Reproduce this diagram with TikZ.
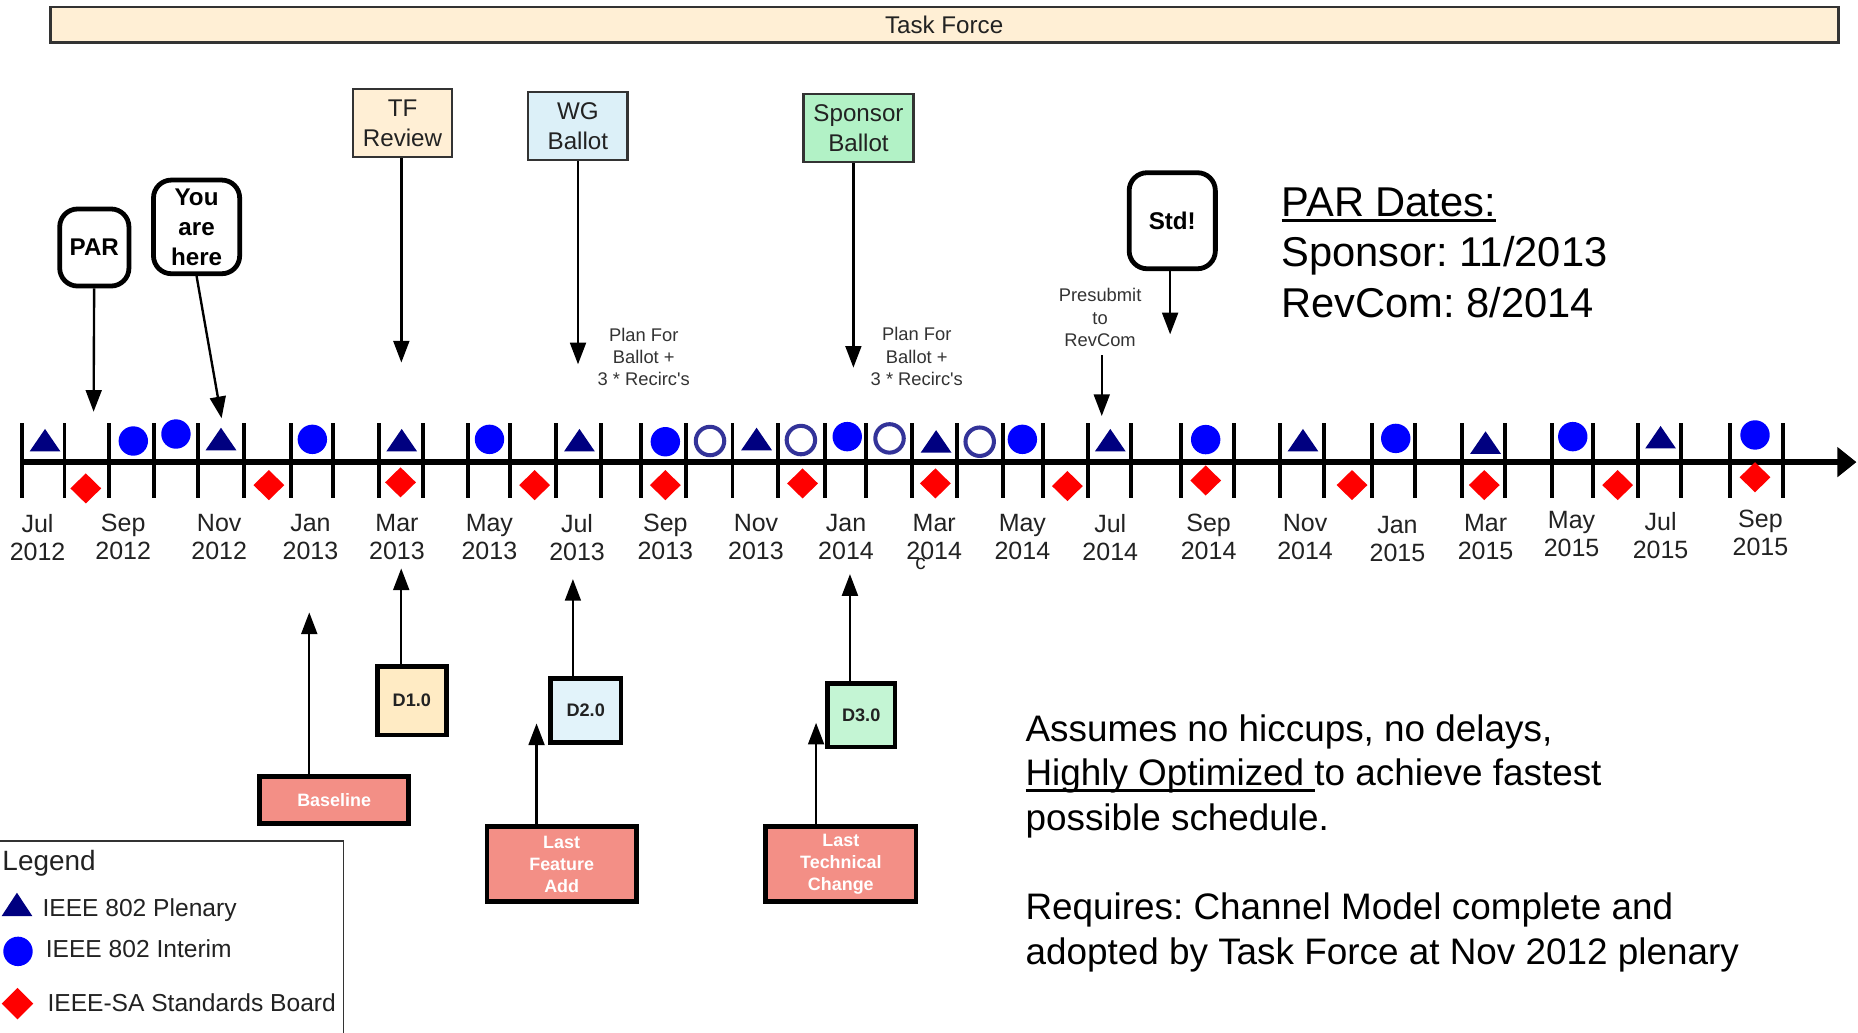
\documentclass[tikz,border=0pt]{standalone}
\usepackage{fontspec}
\setmainfont{Liberation Sans}
\usetikzlibrary{arrows.meta}
\frenchspacing

\definecolor{tfpeach}{RGB}{255,239,213}
\definecolor{wgblue}{RGB}{220,240,248}
\definecolor{sbgreen}{RGB}{178,242,198}
\definecolor{dpeach}{RGB}{255,235,196}
\definecolor{dblue}{RGB}{226,243,250}
\definecolor{dgreen}{RGB}{196,245,212}
\definecolor{salmon}{RGB}{243,143,134}
\definecolor{edgegray}{RGB}{51,51,51}
\definecolor{inkgray}{RGB}{34,34,34}
\definecolor{plenblue}{RGB}{0,0,128}
\definecolor{intblue}{RGB}{0,0,255}
\definecolor{ringblue}{RGB}{51,51,153}
\definecolor{sbred}{RGB}{255,0,0}

% underline that runs through the descenders
\newcommand{\lowrule}[2]{\leavevmode\setbox0\hbox{#2}\rlap{\rule[-#1]{\wd0}{0.62pt}}\box0}

\tikzset{
    tfbar/.style={draw=edgegray, line width=0.66pt, fill=tfpeach, inner sep=0pt, text=inkgray, font=\fontsize{5.8}{7}\selectfont},
    phasebox/.style={draw=edgegray, line width=0.57pt, align=center, inner sep=0pt, text=inkgray, font=\fontsize{5.8}{7.2}\selectfont},
    bubble/.style={draw=black, line width=1.15pt, rounded corners=4.3pt, fill=white, align=center, inner sep=0pt, font=\bfseries\fontsize{5.8}{7.2}\selectfont},
    draftbox/.style={draw=black, line width=1.15pt, inner sep=0pt, text=inkgray, font=\bfseries\fontsize{4.35}{5.2}\selectfont},
    milebox/.style={draw=black, line width=1.15pt, fill=salmon, text=white, align=center, inner sep=0pt, font=\bfseries\fontsize{4.3}{5.2}\selectfont},
    pointer/.style={-{Triangle[length=5.2pt,width=3.8pt]}, line width=0.57pt},
    smalltext/.style={inner sep=0pt, align=center, text=edgegray, font=\fontsize{4.4}{5.35}\selectfont},
    monthlab/.style={inner sep=0pt, align=center, text=inkgray, font=\fontsize{6}{6.7}\selectfont},
    legendtext/.style={inner sep=0pt, text=inkgray, font=\fontsize{5.9}{7}\selectfont},
}

\begin{document}
\begin{tikzpicture}[x=0.01cm, y=-0.01cm]
        \clip (0,0) rectangle (1568,871);
        \fill[white] (0,0) rectangle (1568,871);

        % Task Force bar
        \node[tfbar, minimum width=15.08cm, minimum height=0.30cm] (tf) at (796.8,21) {Task Force};

        % Phases and callouts above the time line
        \node[phasebox, fill=tfpeach, minimum width=0.832cm, minimum height=0.576cm] (tfr) at (339.7,103.8) {TF\\Review};
        \node[phasebox, fill=wgblue, minimum width=0.838cm, minimum height=0.571cm] (wg) at (487.7,106.4) {WG\\Ballot};
        \node[phasebox, fill=sbgreen, minimum width=0.925cm, minimum height=0.576cm] (spb) at (724.5,108) {Sponsor\\Ballot};
        \node[bubble, minimum width=0.584cm, minimum height=0.65cm] (par) at (79.6,208.9) {PAR};
        \node[bubble, minimum width=0.727cm, minimum height=0.79cm] (here) at (165.9,191.5) {You\\are\\here};
        \node[bubble, minimum width=0.727cm, minimum height=0.81cm] (std) at (989.3,186.3) {Std!};

        \node[smalltext, anchor=north] (plan1) at (543.3,276.2) {Plan For\\Ballot +\\3 * Recirc\textquotesingle s};
        \node[smalltext, anchor=north] (plan2) at (773.7,275.7) {Plan For\\Ballot +\\3 * Recirc\textquotesingle s};
        \node[smalltext, anchor=north] (pre) at (928.4,242.8) {Presubmit\\to\\RevCom};

        \coordinate (parTip) at (79,347.5);
        \coordinate (hereTip) at (187,353);
        \coordinate (tfrTip) at (338.7,306);
        \coordinate (wgTip) at (487.8,307.5);
        \coordinate (spbTip) at (720.2,310.3);
        \coordinate (stdTip) at (987.5,282.2);
        \coordinate (preTip) at (929.8,351.1);

        \draw[pointer] (par) -- (parTip);
        \draw[pointer] (here.south) -- (hereTip);
        \draw[pointer] (tfrTip |- tfr.south) -- (tfrTip);
        \draw[pointer] (wgTip |- wg.south) -- (wgTip);
        \draw[pointer] (spbTip |- spb.south) -- (spbTip);
        \draw[pointer] (stdTip |- std.south) -- (stdTip);
        \draw[pointer, shorten <=1.88pt] (preTip |- pre.south) -- (preTip);

        % Time line
        \coordinate (tStart) at (17,390);
        \coordinate (tEnd) at (1566.7,390);
        \foreach \x in {18.4,54.4,91.8,130.1,166.9,206.2,245.3,281.3,319.7,357.1,394.8,430.5,468.9,507.2,
                        540.8,579.1,618.2,656.6,696,731,770,807.7,846.1,880.1,917.9,954.2,997,
                        1041.1,1080.1,1117.3,1158,1194.5,1233.5,1270.3,1309.6,1344,1382.2,1418.4,1459.8,1504.4}
            \draw[line width=0.94pt] (\x,357) -- (\x,420);
        \draw[line width=1.42pt, -{Triangle[length=4.6pt,width=7pt]}] (tStart) -- (tEnd);

        % Plenaries
        \foreach \x/\y in {38/381,186.5/380,339/381,489/381,638.5/380,790/382,937/381,1099.6/381,1253.7/383,1401.4/378.5}
            \fill[plenblue] (\x-13,\y) -- (\x+13,\y) -- (\x,\y-19) -- cycle;
        % Interims
        \foreach \x/\y in {112.5/372.2,148.5/366.3,263.6/370.8,413.1/370.8,561.5/372.8,715/368.5,862.8/370.8,
                           1017.5/371,1177.9/370,1327.3/368.5,1481.1/367.1}
            \fill[intblue] (\x,\y) circle[radius=0.124cm];
        \foreach \x/\y in {599.2/372.2,675.9/371.4,750.7/370,826.8/372.8}
            \draw[ringblue, line width=0.97pt, fill=white] (\x,\y) circle[radius=0.12cm];
        % Standards Board
        \foreach \x/\y in {72.4/412.2,226.9/409.4,338/407.1,451.2/409.4,561.5/409.4,677.3/408,789.4/408,
                           900.8/410.2,1017.5/405.5,1141/409.4,1252.6/409.4,1365.2/409.4,1481.1/402.8}
            \fill[sbred] (\x,\y-12.7) -- (\x+13,\y) -- (\x,\y+12.7) -- (\x-13,\y) -- cycle;

        % Months
        \foreach \x/\mo/\yr/\dy [count=\i] in {31.7/Jul/2012/0,104/Sep/2012/0,185/Nov/2012/0,262/Jan/2013/0,
                335/Mar/2013/0,413/May/2013/0,487/Jul/2013/0,561.5/Sep/2013/0,638/Nov/2013/0,714/Jan/2014/0,
                788.4/Mar/2014/0,862.8/May/2014/0,937/Jul/2014/0,1020/Sep/2014/0,1101.4/Nov/2014/0,
                1179.3/Jan/2015/1.5,1253.7/Mar/2015/0,1326.3/May/2015/-2.5,1401.4/Jul/2015/-2,1485.7/Sep/2015/-3.5}
            \node[monthlab, anchor=north] (m\i) at (\x,433.5+\dy) {\mo\\\yr};
        \node[inner sep=0pt, text=inkgray, font=\fontsize{5}{6}\selectfont] (stray) at (777,476) {c};

        % Drafts and milestones below the time line
        \node[draftbox, fill=dpeach, minimum width=0.585cm, minimum height=0.579cm] (d1) at (347.6,591.4) {D1.0};
        \node[draftbox, fill=dblue, minimum width=0.595cm, minimum height=0.543cm] (d2) at (494.3,599.7) {D2.0};
        \node[draftbox, fill=dgreen, minimum width=0.57cm, minimum height=0.539cm] (d3) at (726.8,603.5) {D3.0};
        \node[milebox, minimum width=1.26cm, minimum height=0.396cm] (base) at (282,675.3) {Baseline};
        \node[milebox, minimum width=1.26cm, minimum height=0.633cm] (lfa) at (474,729.4) {Last\\Feature\\Add};
        \node[milebox, minimum width=1.268cm, minimum height=0.633cm] (ltc) at (709.6,729.4) {Last\\Technical\\Change};

        \coordinate (baseTip) at (261,516.8);
        \coordinate (d1Tip) at (338.6,479.7);
        \coordinate (d2Tip) at (483.5,488.7);
        \coordinate (lfaTip) at (452.8,610.5);
        \coordinate (d3Tip) at (717.3,484.5);
        \coordinate (ltcTip) at (688.7,610);

        \draw[pointer] (baseTip |- base.north) -- (baseTip);
        \draw[pointer] (d1Tip |- d1.north) -- (d1Tip);
        \draw[pointer] (d2Tip |- d2.north) -- (d2Tip);
        \draw[pointer] (lfaTip |- lfa.north) -- (lfaTip);
        \draw[pointer] (d3Tip |- d3.north) -- (d3Tip);
        \draw[pointer] (ltcTip |- ltc.north) -- (ltcTip);

        % PAR dates and notes
        \node[inner sep=0pt, anchor=north west, align=left, font=\fontsize{10}{12.15}\selectfont] (dates) at (1080.8,157.5)
            {\lowrule{1.4pt}{PAR Dates:}\\Sponsor: 11/2013\\RevCom: 8/2014};
        \node[inner sep=0pt, anchor=north west, align=left, font=\fontsize{8.85}{10.7}\selectfont] (assume) at (864.8,602.3)
            {Assumes no hiccups, no delays,\\\lowrule{1.5pt}{Highly Optimized }to achieve fastest\\possible schedule.};
        \node[inner sep=0pt, anchor=north west, align=left, font=\fontsize{8.85}{10.7}\selectfont] (requires) at (864.8,752.9)
            {Requires: Channel Model complete and\\adopted by Task Force at Nov 2012 plenary};

        % Legend
        \draw[edgegray, line width=0.4pt] (-5,709.5) -- (289.8,709.5) -- (289.8,900);
        \node[inner sep=0pt, anchor=base west, text=inkgray, font=\fontsize{6.7}{8}\selectfont] (legend) at (1.4,734.3) {Legend};
        \fill[plenblue] (1.4,773.1) -- (27.3,773.1) -- (14.3,753.4) -- cycle;
        \fill[intblue] (15.2,802.9) circle[radius=0.124cm];
        \fill[sbred] (14.8,833.7) -- (28.1,847) -- (14.8,860.3) -- (1.4,847) -- cycle;
        \node[legendtext, anchor=base west] (lgplen) at (35.2,773.7) {IEEE 802 Plenary};
        \node[legendtext, anchor=base west] (lgint) at (38,808) {IEEE 802 Interim};
        \node[legendtext, anchor=base west] (lgsb) at (39.4,853.3) {IEEE-SA Standards Board};
\end{tikzpicture}
\end{document}
